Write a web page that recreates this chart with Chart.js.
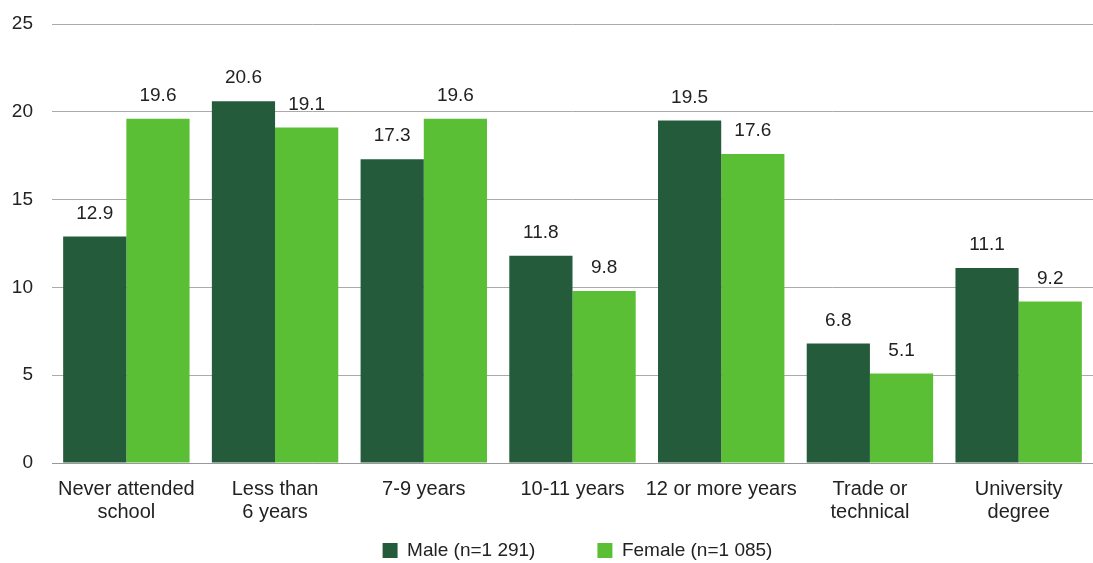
<!DOCTYPE html>
<html>
<head>
<meta charset="utf-8">
<title>Education level by sex</title>
<script src="https://cdn.jsdelivr.net/npm/chart.js@4"></script>
<style>
  html, body { margin: 0; padding: 0; background: #fff; }
  #wrap { width: 1093px; height: 563px; position: relative; }
</style>
</head>
<body>
<div id="wrap"><canvas id="eduChart"></canvas></div>
<script>
// Education categories and percentages per sex
const categories = [
    ['Never attended', 'school'],
    ['Less than', '6 years'],
    '7-9 years',
    '10-11 years',
    '12 or more years',
    ['Trade or', 'technical'],
    ['University', 'degree']
];
const maleValues = [12.9, 20.6, 17.3, 11.8, 19.5, 6.8, 11.1];
const femaleValues = [19.6, 19.1, 19.6, 9.8, 17.6, 5.1, 9.2];
const yTicks = [0, 5, 10, 15, 20, 25];

const FONT = "Arial, 'Liberation Sans', Helvetica, sans-serif";
const LEGEND_GAP = 62;      // space between the two legend entries
const LEGEND_BAND = 24;     // height reserved for the legend row
const LEGEND_ROW_Y = 541;   // top of the legend row
const LEGEND_LEFT = 62;     // legend is centred a bit right of the canvas middle

// Print each bar's value just above it
const valueLabels = {
    id: 'valueLabels',
    afterDatasetsDraw(chart) {
        const ctx = chart.ctx;
        ctx.save();
        ctx.font = '19px ' + FONT;
        ctx.fillStyle = '#222';
        ctx.textAlign = 'center';
        ctx.textBaseline = 'middle';
        chart.data.datasets.forEach((ds, i) => {
            chart.getDatasetMeta(i).data.forEach((bar, j) => {
                ctx.fillText(ds.data[j].toFixed(1), bar.x, bar.y - 23);
            });
        });
        ctx.restore();
    }
};

// Legend padding doubles as item spacing; keep the wide spacing
// without letting it eat vertical room
const legendRow = {
    id: 'legendRow',
    afterInit(chart) {
        const legend = chart.legend;
        const fit = legend.fit;
        legend.fit = function() {
            fit.call(this);
            this.height = LEGEND_BAND;
        };
    },
    afterLayout(chart) {
        const legend = chart.legend;
        legend.top = LEGEND_ROW_Y - LEGEND_GAP;
        legend.bottom = chart.height;
        legend.left = LEGEND_LEFT;
    }
};

document.addEventListener('DOMContentLoaded', function() {
    const ctx = document.getElementById('eduChart').getContext('2d');
    new Chart(ctx, {
        type: 'bar',
        data: {
            labels: categories,
            datasets: [{
                label: 'Male (n=1 291)',
                data: maleValues,
                backgroundColor: '#245c3b',
                borderWidth: 0
            }, {
                label: 'Female (n=1 085)',
                data: femaleValues,
                backgroundColor: '#5bbf35',
                borderWidth: 0
            }]
        },
        options: {
            responsive: true,
            maintainAspectRatio: false,
            animation: false,
            layout: { padding: { top: 24, right: 0, left: 0, bottom: 0 } },
            datasets: {
                bar: { categoryPercentage: 0.85, barPercentage: 1.0 }
            },
            plugins: {
                legend: {
                    position: 'bottom',
                    labels: {
                        boxWidth: 15,
                        boxHeight: 15,
                        padding: LEGEND_GAP,
                        color: '#222',
                        font: { family: FONT, size: 19 }
                    }
                },
                tooltip: { enabled: false }
            },
            scales: {
                x: {
                    grid: { display: false, drawTicks: false },
                    border: { color: '#999', width: 1 },
                    ticks: {
                        color: '#222',
                        padding: 15,
                        maxRotation: 0,
                        autoSkip: false,
                        font: { family: FONT, size: 20, lineHeight: 1.15 }
                    }
                },
                y: {
                    min: 0,
                    max: 25,
                    afterBuildTicks: scale => {
                        scale.ticks = yTicks.map(v => ({ value: v }));
                    },
                    afterFit: scale => {
                        scale.width = 52;
                        scale.paddingTop = 0;
                        scale.paddingBottom = 0;
                    },
                    grid: { color: '#aaa', drawTicks: false },
                    border: { display: false },
                    ticks: {
                        color: '#222',
                        padding: 19,
                        font: { family: FONT, size: 19 }
                    }
                }
            }
        },
        plugins: [valueLabels, legendRow]
    });
});
</script>
</body>
</html>
